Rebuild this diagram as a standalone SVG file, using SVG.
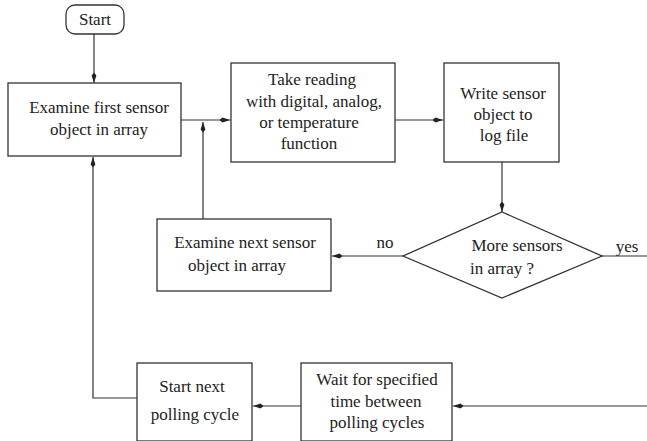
<svg xmlns="http://www.w3.org/2000/svg" width="647" height="441" viewBox="0 0 647 441">
<style>
.box{fill:#fff;stroke:#333;stroke-width:1.3}
.ln{fill:none;stroke:#333;stroke-width:1.2}
.arr{marker-end:url(#ah)}
text{font-family:"Liberation Serif","DejaVu Serif",serif;font-size:17px;fill:#222;text-anchor:middle}
</style>
<defs>
<marker id="ah" markerWidth="11" markerHeight="6" refX="10.5" refY="3" orient="auto" markerUnits="userSpaceOnUse">
<path d="M0,3 L3,0.6 L10.5,3 L3,5.4 Z" fill="#222"/>
</marker>
</defs>
<rect width="647" height="441" fill="#fff"/>
<g id="connectors">
<line class="ln arr" x1="94" y1="34" x2="94" y2="83"/>
<line class="ln arr" x1="181" y1="120" x2="230" y2="120"/>
<line class="ln arr" x1="203" y1="219" x2="203" y2="122"/>
<line class="ln arr" x1="395" y1="120" x2="443" y2="120"/>
<line class="ln arr" x1="502" y1="162" x2="502" y2="212"/>
<line class="ln arr" x1="403" y1="256" x2="332" y2="256"/>
<line class="ln" x1="601" y1="256" x2="647" y2="256"/>
<line class="ln arr" x1="647" y1="406" x2="453" y2="406"/>
<line class="ln arr" x1="301" y1="406" x2="253" y2="406"/>
<polyline class="ln arr" points="137,398 93,398 93,157"/>
<text x="385" y="248">no</text>
<text x="627" y="252">yes</text>
</g>
<g id="start">
<rect class="box" x="66" y="5" width="58" height="29" rx="9"/>
<text x="95" y="25">Start</text>
</g>
<g id="examineFirst">
<rect class="box" x="8" y="83" width="173" height="73"/>
<text x="99" y="113">Examine first sensor</text>
<text x="99" y="135">object in array</text>
</g>
<g id="takeReading">
<rect class="box" x="231" y="63" width="164" height="99"/>
<text x="312" y="85">Take reading</text>
<text x="314" y="107">with digital, analog,</text>
<text x="309" y="128">or temperature</text>
<text x="309" y="149">function</text>
</g>
<g id="writeSensor">
<rect class="box" x="444" y="63" width="115" height="99"/>
<text x="503" y="99">Write sensor</text>
<text x="503" y="120">object to</text>
<text x="504" y="141">log file</text>
</g>
<g id="moreSensors">
<polygon class="box" points="502,212 602,256 502,298 403,256"/>
<text x="517" y="251">More sensors</text>
<text x="502" y="274">in array ?</text>
</g>
<g id="examineNext">
<rect class="box" x="157" y="219" width="174" height="72"/>
<text x="245" y="248">Examine next sensor</text>
<text x="237" y="271">object in array</text>
</g>
<g id="startNext">
<rect class="box" x="137" y="363" width="115" height="78"/>
<text x="192" y="392">Start next</text>
<text x="195" y="420">polling cycle</text>
</g>
<g id="wait">
<rect class="box" x="301" y="363" width="151" height="78"/>
<text x="377" y="385">Wait for specified</text>
<text x="376" y="407">time between</text>
<text x="377" y="428">polling cycles</text>
</g>
</svg>
